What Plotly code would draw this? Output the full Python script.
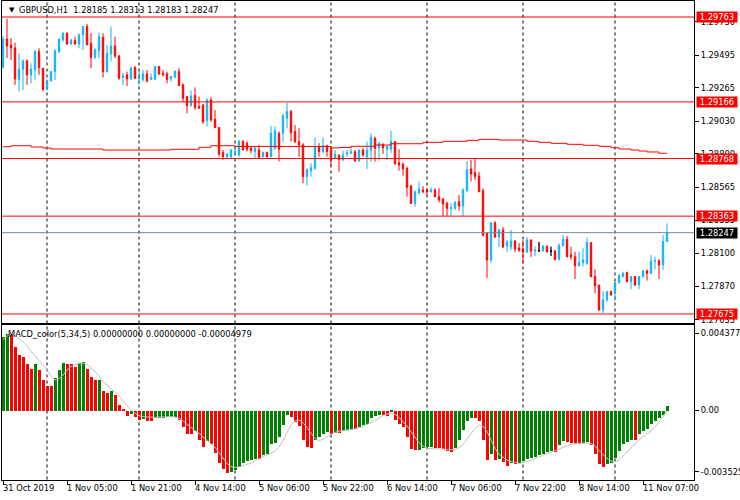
import plotly.graph_objects as go
from datetime import datetime, timedelta

# ---------------- data ----------------
symbol_title = "GBPUSD,H1"
# trading sessions: (date, first hour, number of H1 bars)
sessions = [("2019-10-31", 13, 11), ("2019-11-01", 0, 23), ("2019-11-04", 0, 24),
            ("2019-11-05", 0, 24), ("2019-11-06", 0, 24), ("2019-11-07", 0, 24),
            ("2019-11-08", 0, 23), ("2019-11-11", 0, 14)]

opens = [
    1.29412, 1.29608, 1.29566, 1.29545, 1.29321, 1.29396, 1.29454, 1.29356, 1.29391, 1.29520,
    1.29403, 1.29255, 1.29314, 1.29379, 1.29520, 1.29602, 1.29649, 1.29574, 1.29597, 1.29574,
    1.29637, 1.29696, 1.29578, 1.29480, 1.29527, 1.29620, 1.29379, 1.29503, 1.29560, 1.29489,
    1.29339, 1.29356, 1.29328, 1.29407, 1.29330, 1.29325, 1.29363, 1.29325, 1.29325, 1.29414,
    1.29368, 1.29363, 1.29330, 1.29339, 1.29379, 1.29286, 1.29204, 1.29140, 1.29211, 1.29133,
    1.29145, 1.29035, 1.29180, 1.29044, 1.28986, 1.28810, 1.28781, 1.28781, 1.28810, 1.28793,
    1.28887, 1.28876, 1.28841, 1.28817, 1.28829, 1.28781, 1.28810, 1.28781, 1.28841, 1.28946,
    1.28946, 1.29051, 1.29098, 1.28958, 1.28887, 1.28864, 1.28641, 1.28683, 1.28700, 1.28852,
    1.28817, 1.28859, 1.28828, 1.28770, 1.28793, 1.28758, 1.28798, 1.28805, 1.28816, 1.28751,
    1.28828, 1.28781, 1.28828, 1.28910, 1.28844, 1.28868, 1.28835, 1.28835, 1.28887, 1.28739,
    1.28730, 1.28699, 1.28575, 1.28453, 1.28528, 1.28547, 1.28547, 1.28535, 1.28547, 1.28500,
    1.28484, 1.28453, 1.28416, 1.28418, 1.28465, 1.28434, 1.28542, 1.28695, 1.28669, 1.28645,
    1.28542, 1.28244, 1.28055, 1.28315, 1.28216, 1.28266, 1.28153, 1.28146, 1.28188, 1.28139,
    1.28132, 1.28111, 1.28195, 1.28118, 1.28121, 1.28120, 1.28153, 1.28118, 1.28118, 1.28060,
    1.28156, 1.28200, 1.28090, 1.28078, 1.28015, 1.28036, 1.28031, 1.28177, 1.27938, 1.27879,
    1.27703, 1.27774, 1.27832, 1.27825, 1.27896, 1.27938, 1.27966, 1.27903, 1.27938, 1.27879,
    1.27938, 1.27978, 1.27961, 1.28046, 1.28050, 1.28020, 1.28185]

highs = [
    1.29630, 1.29749, 1.29615, 1.29583, 1.29508, 1.29466, 1.29466, 1.29438, 1.29532, 1.29543,
    1.29403, 1.29325, 1.29384, 1.29536, 1.29613, 1.29656, 1.29656, 1.29613, 1.29625, 1.29649,
    1.29700, 1.29714, 1.29649, 1.29543, 1.29653, 1.29649, 1.29567, 1.29696, 1.29625, 1.29496,
    1.29372, 1.29379, 1.29414, 1.29419, 1.29379, 1.29391, 1.29391, 1.29368, 1.29419, 1.29419,
    1.29391, 1.29379, 1.29349, 1.29391, 1.29403, 1.29297, 1.29204, 1.29246, 1.29269, 1.29204,
    1.29152, 1.29192, 1.29199, 1.29110, 1.28986, 1.28829, 1.28805, 1.28833, 1.28852, 1.28899,
    1.28899, 1.28887, 1.28852, 1.28852, 1.28864, 1.28817, 1.28817, 1.28997, 1.28993, 1.28958,
    1.29082, 1.29161, 1.29110, 1.29004, 1.28981, 1.28876, 1.28700, 1.28735, 1.28915, 1.28876,
    1.28915, 1.28864, 1.28852, 1.28828, 1.28793, 1.28823, 1.28828, 1.28852, 1.28828, 1.28833,
    1.28840, 1.28887, 1.28945, 1.28922, 1.28887, 1.28875, 1.28859, 1.28964, 1.28887, 1.28833,
    1.28739, 1.28711, 1.28582, 1.28542, 1.28606, 1.28575, 1.28559, 1.28566, 1.28559, 1.28559,
    1.28488, 1.28465, 1.28453, 1.28470, 1.28512, 1.28559, 1.28751, 1.28758, 1.28770, 1.28676,
    1.28559, 1.28250, 1.28322, 1.28329, 1.28273, 1.28287, 1.28195, 1.28266, 1.28195, 1.28174,
    1.28195, 1.28216, 1.28200, 1.28149, 1.28181, 1.28158, 1.28153, 1.28149, 1.28125, 1.28172,
    1.28231, 1.28223, 1.28149, 1.28113, 1.28113, 1.28137, 1.28212, 1.28177, 1.27989, 1.27879,
    1.27837, 1.27837, 1.27839, 1.27903, 1.27956, 1.27973, 1.27973, 1.27942, 1.27942, 1.27942,
    1.27985, 1.27989, 1.28090, 1.28078, 1.28060, 1.28231, 1.28313]

lows = [
    1.29400, 1.29475, 1.29461, 1.29285, 1.29239, 1.29250, 1.29286, 1.29297, 1.29321, 1.29356,
    1.29239, 1.29250, 1.29309, 1.29321, 1.29508, 1.29590, 1.29567, 1.29567, 1.29567, 1.29543,
    1.29532, 1.29567, 1.29403, 1.29466, 1.29473, 1.29337, 1.29372, 1.29450, 1.29473, 1.29321,
    1.29286, 1.29278, 1.29321, 1.29328, 1.29286, 1.29309, 1.29302, 1.29321, 1.29321, 1.29356,
    1.29344, 1.29297, 1.29309, 1.29332, 1.29278, 1.29168, 1.29086, 1.29133, 1.29110, 1.29121,
    1.29011, 1.28993, 1.29027, 1.28981, 1.28781, 1.28758, 1.28770, 1.28770, 1.28793, 1.28781,
    1.28824, 1.28817, 1.28805, 1.28770, 1.28770, 1.28777, 1.28777, 1.28777, 1.28829, 1.28747,
    1.28887, 1.28981, 1.28887, 1.28876, 1.28781, 1.28594, 1.28578, 1.28641, 1.28688, 1.28781,
    1.28805, 1.28781, 1.28711, 1.28762, 1.28676, 1.28751, 1.28781, 1.28800, 1.28746, 1.28746,
    1.28781, 1.28695, 1.28746, 1.28746, 1.28753, 1.28800, 1.28758, 1.28805, 1.28727, 1.28683,
    1.28648, 1.28500, 1.28449, 1.28430, 1.28512, 1.28524, 1.28512, 1.28528, 1.28495, 1.28458,
    1.28364, 1.28364, 1.28364, 1.28406, 1.28402, 1.28364, 1.28535, 1.28606, 1.28617, 1.28531,
    1.28220, 1.27928, 1.28034, 1.28209, 1.28146, 1.28139, 1.28111, 1.28125, 1.28111, 1.28111,
    1.28031, 1.28104, 1.28076, 1.28083, 1.28111, 1.28113, 1.28106, 1.28083, 1.28050, 1.28050,
    1.28149, 1.28074, 1.28055, 1.27921, 1.28008, 1.28008, 1.28020, 1.27933, 1.27821, 1.27699,
    1.27680, 1.27762, 1.27804, 1.27767, 1.27891, 1.27933, 1.27896, 1.27849, 1.27872, 1.27849,
    1.27931, 1.27910, 1.27954, 1.27989, 1.27921, 1.27985, 1.28183]

closes = [
    1.29608, 1.29559, 1.29545, 1.29327, 1.29396, 1.29454, 1.29356, 1.29396, 1.29520, 1.29407,
    1.29255, 1.29314, 1.29379, 1.29525, 1.29606, 1.29649, 1.29574, 1.29597, 1.29574, 1.29637,
    1.29696, 1.29567, 1.29480, 1.29532, 1.29625, 1.29379, 1.29508, 1.29560, 1.29489, 1.29332,
    1.29349, 1.29328, 1.29403, 1.29332, 1.29339, 1.29363, 1.29314, 1.29337, 1.29414, 1.29363,
    1.29358, 1.29325, 1.29344, 1.29379, 1.29281, 1.29192, 1.29140, 1.29208, 1.29128, 1.29121,
    1.29027, 1.29180, 1.29039, 1.28986, 1.28800, 1.28781, 1.28800, 1.28829, 1.28817, 1.28887,
    1.28829, 1.28833, 1.28824, 1.28841, 1.28777, 1.28810, 1.28781, 1.28946, 1.28962, 1.28833,
    1.29068, 1.29098, 1.28950, 1.28887, 1.28864, 1.28641, 1.28688, 1.28704, 1.28852, 1.28817,
    1.28859, 1.28817, 1.28762, 1.28800, 1.28762, 1.28793, 1.28809, 1.28816, 1.28751, 1.28828,
    1.28793, 1.28828, 1.28917, 1.28840, 1.28875, 1.28844, 1.28852, 1.28887, 1.28730, 1.28723,
    1.28695, 1.28566, 1.28453, 1.28535, 1.28552, 1.28535, 1.28533, 1.28547, 1.28500, 1.28477,
    1.28449, 1.28418, 1.28423, 1.28458, 1.28434, 1.28547, 1.28688, 1.28659, 1.28641, 1.28535,
    1.28230, 1.28055, 1.28315, 1.28216, 1.28266, 1.28146, 1.28181, 1.28188, 1.28132, 1.28125,
    1.28111, 1.28195, 1.28118, 1.28125, 1.28121, 1.28153, 1.28113, 1.28118, 1.28060, 1.28156,
    1.28200, 1.28078, 1.28078, 1.28015, 1.28036, 1.28055, 1.28177, 1.27938, 1.27874, 1.27703,
    1.27774, 1.27832, 1.27809, 1.27896, 1.27945, 1.27961, 1.27903, 1.27938, 1.27879, 1.27938,
    1.27978, 1.27961, 1.28048, 1.28050, 1.28020, 1.28184, 1.28247]

# red moving-average (stepped) line
ma_line = ([1.28851] * 2 + [1.28858] * 5 + [1.28849] * 3 + [1.28842] * 2 + [1.28835] * 13 +
           [1.28828] * 17 + [1.28833] * 7 + [1.28847] * 3 + [1.28858] * 6 + [1.28853] * 24 +
           [1.28842] * 2 + [1.28846] * 3 + [1.28854] * 6 + [1.28863] * 4 + [1.28872] * 8 +
           [1.28882] * 5 + [1.28889] * 6 + [1.28896] * 3 + [1.28903] * 5 + [1.28898] * 7 +
           [1.28889] * 3 + [1.28882] * 3 + [1.28875] * 4 + [1.28868] * 4 + [1.28861] * 4 +
           [1.28854] * 3 + [1.28844] * 2 + [1.28835] * 3 + [1.28828] * 2 + [1.28821] * 2 +
           [1.28814] * 3 + [1.28805] * 3)

macd_hist = [
    0.00420, 0.00436, 0.00432, 0.00360, 0.00313, 0.00304, 0.00266, 0.00237, 0.00266, 0.00231,
    0.00175, 0.00142, 0.00137, 0.00186, 0.00228, 0.00269, 0.00266, 0.00264, 0.00250, 0.00270,
    0.00275, 0.00237, 0.00190, 0.00171, 0.00175, 0.00110, 0.00099, 0.00110, 0.00091, 0.00034,
    0.00004, -0.00032, -0.00019, -0.00038, -0.00055, -0.00051, -0.00057, -0.00061, -0.00042, -0.00041,
    -0.00040, -0.00038, -0.00037, -0.00036, -0.00053, -0.00095, -0.00133, -0.00134, -0.00118, -0.00167,
    -0.00205, -0.00175, -0.00190, -0.00243, -0.00300, -0.00332, -0.00357, -0.00351, -0.00341, -0.00322,
    -0.00300, -0.00288, -0.00280, -0.00275, -0.00278, -0.00255, -0.00245, -0.00190, -0.00186, -0.00152,
    -0.00085, -0.00028, -0.00038, -0.00066, -0.00091, -0.00167, -0.00205, -0.00214, -0.00165, -0.00152,
    -0.00133, -0.00120, -0.00133, -0.00127, -0.00130, -0.00114, -0.00110, -0.00104, -0.00106, -0.00095,
    -0.00085, -0.00076, -0.00040, -0.00034, -0.00026, -0.00028, -0.00030, -0.00010, -0.00053, -0.00076,
    -0.00095, -0.00148, -0.00218, -0.00224, -0.00222, -0.00212, -0.00210, -0.00209, -0.00214, -0.00216,
    -0.00218, -0.00233, -0.00237, -0.00215, -0.00170, -0.00110, -0.00060, -0.00040, -0.00045, -0.00057,
    -0.00165, -0.00281, -0.00245, -0.00283, -0.00275, -0.00294, -0.00318, -0.00300, -0.00303, -0.00296,
    -0.00285, -0.00275, -0.00271, -0.00266, -0.00256, -0.00247, -0.00237, -0.00231, -0.00237, -0.00199,
    -0.00175, -0.00177, -0.00185, -0.00192, -0.00193, -0.00186, -0.00180, -0.00195, -0.00247, -0.00304,
    -0.00322, -0.00307, -0.00300, -0.00269, -0.00228, -0.00193, -0.00180, -0.00165, -0.00169, -0.00133,
    -0.00118, -0.00104, -0.00076, -0.00057, -0.00042, -0.00028, 0.00023]

macd_signal = [
    0.00402, 0.00421, 0.00433, 0.00423, 0.00408, 0.00389, 0.00366, 0.00332, 0.00311, 0.00281,
    0.00256, 0.00228, 0.00193, 0.00171, 0.00178, 0.00199, 0.00228, 0.00247, 0.00258, 0.00266,
    0.00267, 0.00258, 0.00241, 0.00218, 0.00193, 0.00161, 0.00140, 0.00123, 0.00104, 0.00082,
    0.00051, 0.00023, 0.00000, -0.00019, -0.00032, -0.00038, -0.00040, -0.00042, -0.00042, -0.00040,
    -0.00038, -0.00038, -0.00038, -0.00040, -0.00047, -0.00063, -0.00082, -0.00102, -0.00118, -0.00133,
    -0.00152, -0.00171, -0.00190, -0.00212, -0.00243, -0.00275, -0.00304, -0.00322, -0.00328, -0.00324,
    -0.00319, -0.00309, -0.00304, -0.00290, -0.00277, -0.00266, -0.00256, -0.00247, -0.00233, -0.00212,
    -0.00175, -0.00129, -0.00085, -0.00061, -0.00057, -0.00072, -0.00099, -0.00133, -0.00161, -0.00175,
    -0.00167, -0.00152, -0.00138, -0.00127, -0.00121, -0.00118, -0.00116, -0.00112, -0.00108, -0.00102,
    -0.00093, -0.00083, -0.00072, -0.00059, -0.00044, -0.00032, -0.00023, -0.00017, -0.00025, -0.00042,
    -0.00066, -0.00091, -0.00123, -0.00156, -0.00186, -0.00205, -0.00218, -0.00220, -0.00220, -0.00220,
    -0.00222, -0.00226, -0.00228, -0.00226, -0.00214, -0.00195, -0.00167, -0.00137, -0.00104, -0.00085,
    -0.00091, -0.00123, -0.00167, -0.00218, -0.00252, -0.00271, -0.00285, -0.00294, -0.00300, -0.00304,
    -0.00300, -0.00294, -0.00286, -0.00277, -0.00266, -0.00256, -0.00247, -0.00239, -0.00233, -0.00224,
    -0.00212, -0.00203, -0.00195, -0.00192, -0.00190, -0.00190, -0.00188, -0.00190, -0.00205, -0.00231,
    -0.00256, -0.00275, -0.00290, -0.00296, -0.00285, -0.00262, -0.00235, -0.00212, -0.00190, -0.00171,
    -0.00152, -0.00137, -0.00120, -0.00095, -0.00068, -0.00038, -0.00005]

levels = [1.29763, 1.29166, 1.28768, 1.28363, 1.27675]
current_price = 1.28247
price_ticks = [1.29730, 1.29495, 1.29265, 1.29030, 1.28800, 1.28565, 1.28335, 1.28100, 1.27870, 1.27635]
macd_ticks = [0.0043776, 0.0, -0.003525]
macd_tick_text = ["0.0043776", "0.00", "-0.003525"]
macd_title = "MACD_color(5,34,5) 0.00000000 0.00000000 -0.00004979"
label_every = 16

# ---------------- derived ----------------
times = []
for d, h0, n in sessions:
    base = datetime.strptime(d, "%Y-%m-%d")
    for k in range(n):
        times.append(base + timedelta(hours=h0 + k))
x = list(range(len(times)))
day_starts = [i for i, t in enumerate(times) if t.hour == 0]
label_idx = list(range(0, len(times), label_every))
label_txt = []
for j, i in enumerate(label_idx):
    t = times[i]
    if j == 0:
        label_txt.append(f"{t.day} {t.strftime('%b %Y')}")
    else:
        label_txt.append(f"{t.day} {t.strftime('%b %H:%M')}")

hist_colors = ["#008000" if (i == 0 or macd_hist[i] > macd_hist[i - 1]) else "#ff0000"
               for i in range(len(macd_hist))]
is_doji = [o == c for o, c in zip(opens, closes)]


def pick(vals):
    return [v if d else None for v, d in zip(vals, is_doji)]


W, H = 740, 500
BLUE = "#10b4f2"
RED = "#ff0000"
FONT = dict(family="DejaVu Sans", size=8.3, color="black")

xd = [2 / W, 694 / W]
y1d = [1 - 322.5 / H, 1 - 1 / H]
y2d = [1 - 479.5 / H, 1 - 324.5 / H]
xr = [-0.25, (694 - 3) / 4]
p_top = 1.29763 + 16 * 0.0000703
p_bot = 1.29763 - 305.5 * 0.0000703
m_top = (410 - 324.5) * 5.69e-5
m_bot = (410 - 479.5) * 5.69e-5

fig = go.Figure()
fig.add_trace(go.Candlestick(
    x=x, open=opens, high=highs, low=lows, close=closes,
    increasing=dict(line=dict(color=BLUE, width=1), fillcolor=BLUE),
    decreasing=dict(line=dict(color=RED, width=1), fillcolor=RED),
    whiskerwidth=0, showlegend=False, hoverinfo="skip", xaxis="x", yaxis="y"))
fig.add_trace(go.Candlestick(
    x=x, open=pick(opens), high=pick(highs), low=pick(lows), close=pick(closes),
    increasing=dict(line=dict(color="black", width=1), fillcolor="black"),
    decreasing=dict(line=dict(color="black", width=1), fillcolor="black"),
    whiskerwidth=0, showlegend=False, hoverinfo="skip", xaxis="x", yaxis="y"))
fig.add_trace(go.Scatter(x=x, y=ma_line, mode="lines",
                         line=dict(color=RED, width=1, shape="hv"),
                         showlegend=False, hoverinfo="skip", xaxis="x", yaxis="y"))
fig.add_trace(go.Bar(x=x, y=macd_hist, width=0.75,
                     marker=dict(color=hist_colors, line=dict(width=0)),
                     showlegend=False, hoverinfo="skip", xaxis="x2", yaxis="y2"))
fig.add_trace(go.Scatter(x=x, y=macd_signal, mode="lines",
                         line=dict(color="#c0c0c0", width=1),
                         showlegend=False, hoverinfo="skip", xaxis="x2", yaxis="y2"))

shapes = []
for i in day_starts:
    shapes.append(dict(type="line", xref="x", yref="paper", x0=i, x1=i,
                       y0=y2d[0], y1=y1d[1], layer="below",
                       line=dict(color="black", width=1, dash="3px,3px")))
for lv in levels:
    shapes.append(dict(type="line", xref="paper", yref="y", x0=xd[0], x1=xd[1],
                       y0=lv, y1=lv, line=dict(color=RED, width=1)))
shapes.append(dict(type="line", xref="paper", yref="y", x0=xd[0], x1=xd[1],
                   y0=current_price, y1=current_price, line=dict(color="#778899", width=1)))

ann = []
for lv in levels:
    ann.append(dict(x=696 / W, xref="paper", y=lv, yref="y", xanchor="left", yanchor="middle",
                    text=f"{lv:.5f}", showarrow=False, bgcolor=RED, borderpad=0,
                    width=40, height=10, font=dict(family="DejaVu Sans", size=8.3, color="white")))
ann.append(dict(x=696 / W, xref="paper", y=current_price, yref="y", xanchor="left",
                yanchor="middle", text=f"{current_price:.5f}", showarrow=False, bgcolor="black",
                borderpad=0, width=40, height=10,
                font=dict(family="DejaVu Sans", size=8.3, color="white")))
for i, t in zip(label_idx, label_txt):
    ann.append(dict(x=i, xref="x2", y=1 - 488 / H, yref="paper", xanchor="left",
                    yanchor="middle", text=t, showarrow=False, xshift=-2, font=FONT))
ann.append(dict(x=7 / W, xref="paper", y=1 - 10 / H, yref="paper", xanchor="left",
                yanchor="middle", text="▼", showarrow=False,
                font=dict(family="DejaVu Sans", size=7, color="black")))
header = "\u00a0\u00a0".join([symbol_title, " ".join(f"{v:.5f}" for v in
                              (opens[-1], highs[-1], lows[-1], closes[-1]))])
ann.append(dict(x=17 / W, xref="paper", y=1 - 10 / H, yref="paper", xanchor="left",
                yanchor="middle", text=header, showarrow=False, font=FONT))
ann.append(dict(x=6 / W, xref="paper", y=1 - 334 / H, yref="paper", xanchor="left",
                yanchor="middle", text=macd_title, showarrow=False, font=FONT))

axis_common = dict(showgrid=False, zeroline=False, showline=True, linecolor="black",
                   linewidth=1, mirror=True, tickcolor="black", tickfont=FONT,
                   automargin=False)
fig.update_layout(
    width=W, height=H, margin=dict(l=0, r=0, t=0, b=0, autoexpand=False),
    paper_bgcolor="white", plot_bgcolor="white", boxgap=0.5, bargap=0,
    showlegend=False, shapes=shapes, annotations=ann,
    xaxis=dict(domain=xd, range=xr, anchor="y", showticklabels=False, ticks="",
               rangeslider=dict(visible=False), **axis_common),
    xaxis2=dict(domain=xd, range=xr, anchor="y2", showticklabels=False, ticks="outside",
                ticklen=4, tickvals=label_idx, **axis_common),
    yaxis=dict(domain=y1d, range=[p_bot, p_top], anchor="x", side="right",
               tickvals=price_ticks, ticktext=[f"{v:.5f}" for v in price_ticks],
               ticks="outside", ticklen=4, **axis_common),
    yaxis2=dict(domain=y2d, range=[m_bot, m_top], anchor="x2", side="right",
                tickvals=macd_ticks, ticktext=macd_tick_text,
                ticks="outside", ticklen=4, **axis_common),
)
fig.write_html("out.html", config={"displayModeBar": False, "responsive": False},
               post_script="document.body.style.margin='0';")
